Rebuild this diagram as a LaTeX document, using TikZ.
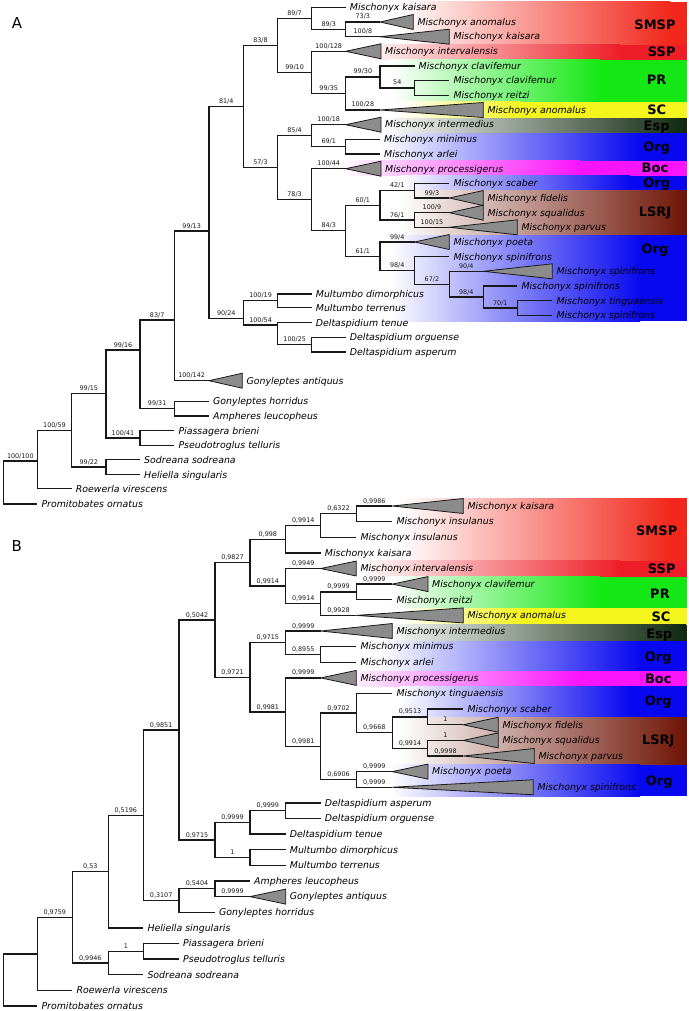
\documentclass[tikz,border=0pt]{standalone}
\usepackage{fontspec}
\setmainfont{DejaVu Sans}
\definecolor{cRed}{RGB}{242,40,28}
\definecolor{cRedB}{RGB}{238,30,40}
\definecolor{cGreen}{RGB}{20,232,20}
\definecolor{cYellow}{RGB}{245,245,30}
\definecolor{cEsp}{RGB}{15,40,15}
\definecolor{cBlue}{RGB}{8,8,240}
\definecolor{cMag}{RGB}{250,20,250}
\definecolor{cBrown}{RGB}{110,20,5}
\newcommand\tnode[5]{\coordinate (#2) at (#3,#4); \draw[br] (#1) |- (#2) node[bl,pos=.75] {#5};}
\newcommand\tleaf[5]{\coordinate (#2) at (#3,#4); \draw[br] (#1) |- (#2); \node[sp] (#2t) at (#2) {#5};}
\newcommand\ttri[7]{\coordinate (#2) at (#3,#4); \draw[br] (#1) |- (#2) node[bl,pos=.75] {#7};
  \coordinate (#2b) at (#5,#4);
  \filldraw[tri] (#2) -- ([yshift=7.5pt]#2b) -- ([yshift=-7.5pt]#2b) -- cycle;
  \node[sp] (#2t) at (#2b) {#6};}
\newcommand\band[5]{\shade[left color=white,right color=#5] (#3,#1) rectangle (#4,#2);
  \fill[#5] (#4-0.5,#1) rectangle (686.7,#2);}
\begin{document}
\begin{tikzpicture}[x=1pt,y=-1pt,
  br/.style={line width=1.25pt,black!90,line join=miter},
  bl/.style={font=\fontsize{6.4}{7}\selectfont,anchor=base,yshift=3pt,inner sep=0pt},
  sp/.style={font=\fontsize{9.4}{11}\selectfont\itshape,anchor=base west,xshift=4pt,yshift=-3.3pt,inner sep=0pt},
  tri/.style={draw=black!90,line width=0.8pt,fill=black!45},
  grp/.style={font=\fontsize{13}{15}\selectfont\bfseries,anchor=base,yshift=-4.7pt,inner sep=0pt},
  pl/.style={font=\fontsize{15}{17}\selectfont,inner sep=0pt}]
\useasboundingbox (0,0) rectangle (688,1011);
% ---------- bands A
\band{1.7}{45}{400}{670}{cRed}
\band{45}{59.7}{360}{620}{cRedB}
\band{59.7}{101.7}{390}{600}{cGreen}
\band{101.7}{118.3}{400}{520}{cYellow}
\band{118.3}{133.3}{380}{686}{cEsp}
\band{133.3}{160.7}{380}{640}{cBlue}
\band{160.7}{176}{340}{580}{cMag}
\band{176}{190.7}{400}{630}{cBlue}
\band{190.7}{235}{400}{686}{cBrown}
\band{235}{321}{390}{640}{cBlue}
% ---------- bands B
\band{498.3}{560.5}{400}{670}{cRed}
\band{560.5}{576.5}{360}{620}{cRedB}
\band{576.5}{608}{390}{600}{cGreen}
\band{608}{624.5}{400}{520}{cYellow}
\band{624.5}{641}{380}{686}{cEsp}
\band{641}{671}{380}{640}{cBlue}
\band{671}{686}{340}{580}{cMag}
\band{686}{717.5}{400}{630}{cBlue}
\band{717.5}{764.5}{400}{686}{cBrown}
\band{764.5}{796}{390}{640}{cBlue}
% ---------- panel letters
\node[pl] (lA) at (17,23) {A};
\node[pl] (lB) at (16.7,545.7) {B};
% ---------- tree A
\coordinate (aR0) at (3.3,482);
\tleaf{aR0}{aPro}{37.3}{504}{Promitobates ornatus}
\tnode{aR0}{a1}{37.3}{461}{100/100}
\tleaf{a1}{aRoe}{71.7}{488.7}{Roewerla virescens}
\tnode{a1}{a2}{71.7}{430.7}{100/59}
\tnode{a2}{a3}{106}{393.3}{99/15}
\tnode{a2}{a4}{106}{467}{99/22}
\tleaf{a4}{aSod}{140}{459.7}{Sodreana sodreana}
\tleaf{a4}{aHel}{140}{474.7}{Heliella singularis}
\tnode{a3}{a5}{140}{350}{99/16}
\tnode{a3}{a6}{140}{438}{100/41}
\tleaf{a6}{aPia}{174.3}{430.7}{Piassagera brieni}
\tleaf{a6}{aPse}{174.3}{445.3}{Pseudotroglus telluris}
\tnode{a5}{a7}{174.3}{320}{83/7}
\tnode{a5}{a8}{174.3}{408.7}{99/31}
\tleaf{a8}{aGho}{209}{401.3}{Gonyleptes horridus}
\tleaf{a8}{aAmp}{209}{416}{Ampheres leucopheus}
\tnode{a7}{a9}{209}{231}{99/13}
\ttri{a7}{aGan}{209}{380.7}{242.3}{Gonyleptes antiquus}{100/142}
\tnode{a9}{a10}{243.5}{106.5}{81/4}
\tnode{a9}{a11}{243.5}{318.3}{90/24}
\tnode{a11}{a12}{277.7}{300.85}{100/19}
\tnode{a11}{a13}{277.7}{325}{100/54}
\tleaf{a12}{aMdi}{311.7}{294}{Multumbo dimorphicus}
\tleaf{a12}{aMte}{311.7}{307.7}{Multumbo terrenus}
\tleaf{a13}{aDte}{311.7}{322.7}{Deltaspidium tenue}
\tnode{a13}{a14}{311.7}{344.65}{100/25}
\tleaf{a14}{aDor}{345.7}{337.3}{Deltaspidium orguense}
\tleaf{a14}{aDas}{345.7}{352}{Deltaspidium asperum}
\tnode{a10}{a15}{277.5}{45.35}{83/8}
\tnode{a10}{a16}{277.5}{167.7}{57/3}
\tnode{a15}{a17}{311.7}{18.3}{89/7}
\tnode{a15}{a18}{311.7}{72.4}{99/10}
\tleaf{a17}{aKa1}{345.7}{7.3}{Mischonyx kaisara}
\tnode{a17}{a19}{345.7}{29.35}{89/3}
\ttri{a19}{aAn1}{380}{22}{413.3}{Mischonyx anomalus}{73/3}
\ttri{a19}{aKa2}{380}{36.7}{449.3}{Mischonyx kaisara}{100/8}
\ttri{a18}{aInt}{345.7}{51.3}{381}{Mischonyx intervalensis}{100/128}
\tnode{a18}{a20}{345.7}{93.5}{99/35}
\tnode{a20}{a21}{380}{77}{99/30}
\ttri{a20}{aAn2}{380}{110}{483.3}{Mischonyx anomalus}{100/28}
\tleaf{a21}{aCl1}{414.5}{66}{Mischonyx clavifemur}
\tnode{a21}{a22}{414.5}{88}{54}
\tleaf{a22}{aCl2}{449.3}{80.7}{Mischonyx clavifemur}
\tleaf{a22}{aRei}{449.3}{95.3}{Mischonyx reitzi}
\tnode{a16}{a23}{311.7}{135.7}{85/4}
\tnode{a16}{a24}{311.7}{199.7}{78/3}
\ttri{a23}{aIme}{345.7}{124.7}{381}{Mischonyx intermedius}{100/18}
\tnode{a23}{a25}{345.7}{146.65}{69/1}
\tleaf{a25}{aMin}{380}{139.3}{Mischonyx minimus}
\tleaf{a25}{aArl}{380}{154}{Mischonyx arlei}
\ttri{a24}{aPrc}{345.7}{168.7}{381}{Mischonyx processigerus}{100/44}
\tnode{a24}{a26}{345.7}{230.75}{84/3}
\tnode{a26}{a27}{380}{205.3}{60/1}
\tnode{a26}{a28}{380}{256.2}{61/1}
\tnode{a27}{a29}{414.5}{190.65}{42/1}
\tnode{a27}{a30}{414.5}{220}{76/1}
\tleaf{a29}{aSca}{449.3}{183.3}{Mischonyx scaber}
\ttri{a29}{aFid}{449.3}{198}{483.3}{Mishconyx fidelis}{99/3}
\ttri{a30}{aSqu}{449.3}{212.7}{483.3}{Mischonyx squalidus}{100/9}
\ttri{a30}{aPar}{449.3}{227.3}{517.3}{Mischonyx parvus}{100/15}
\ttri{a28}{aPoe}{414.5}{242}{449.3}{Mischonyx poeta}{99/4}
\tnode{a28}{a31}{414.5}{270.4}{98/4}
\tleaf{a31}{aSp1}{449.3}{256.7}{Mischonyx spinifrons}
\tnode{a31}{a32}{449.3}{284.15}{67/2}
\ttri{a32}{aSp2}{483.3}{271.3}{552.3}{Mischonyx spinifrons}{90/4}
\tnode{a32}{a33}{483.3}{297}{98/4}
\tleaf{a33}{aSp3}{517.3}{286}{Mischonyx spinifrons}
\tnode{a33}{a34}{517.3}{308}{70/1}
\tleaf{a34}{aTin}{552.3}{300.7}{Mischonyx tinguaensis}
\tleaf{a34}{aSp4}{552.3}{315.3}{Mischonyx spinifrons}
% ---------- tree B
\coordinate (bR0) at (3.3,979.9);
\tleaf{bR0}{bPro}{37.3}{1006}{Promitobates ornatus}
\tnode{bR0}{b1}{37.3}{953.9}{}
\tleaf{b1}{bRoe}{72.3}{990.4}{Roewerla virescens}
\tnode{b1}{b2}{72.3}{917.3}{0,9759}
\tnode{b2}{b3}{108.3}{871.5}{0,53}
\tnode{b2}{b4}{108.3}{963}{0,9946}
\tnode{b4}{b5}{143.3}{951.3}{1}
\tleaf{b4}{bSod}{143.3}{974.75}{Sodreana sodreana}
\tleaf{b5}{bPia}{179}{943.5}{Piassagera brieni}
\tleaf{b5}{bPse}{179}{959.1}{Pseudotroglus telluris}
\tnode{b3}{b6}{143.3}{815.3}{0,5196}
\tleaf{b3}{bHel}{143.3}{927.9}{Heliella singularis}
\tnode{b6}{b7}{179}{730}{0,9851}
\tnode{b6}{b8}{179}{900.5}{0,3107}
\tnode{b8}{b9}{215}{888.8}{0,5404}
\tleaf{b8}{bGho}{215}{912.25}{Gonyleptes horridus}
\tleaf{b9}{bAmp}{250}{881}{Ampheres leucopheus}
\ttri{b9}{bGan}{250}{896.6}{285.7}{Gonyleptes antiquus}{0,9999}
\tnode{b7}{b10}{215}{620}{0,5042}
\tnode{b7}{b11}{215}{840}{0,9715}
\tnode{b11}{b12}{250}{822.4}{0,9999}
\tnode{b11}{b13}{250}{857.6}{1}
\tnode{b12}{b14}{285.7}{810.7}{0,9999}
\tleaf{b12}{bDte}{285.7}{834.1}{Deltaspidium tenue}
\tleaf{b14}{bDas}{320.7}{802.9}{Deltaspidium asperum}
\tleaf{b14}{bDor}{320.7}{818.5}{Deltaspidium orguense}
\tleaf{b13}{bMdi}{285.7}{849.75}{Multumbo dimorphicus}
\tleaf{b13}{bMte}{285.7}{865.4}{Multumbo terrenus}
\tnode{b10}{b15}{250}{562.6}{0,9827}
\tnode{b10}{b16}{250}{677.4}{0,9721}
\tnode{b15}{b17}{285.7}{539.2}{0,998}
\tnode{b15}{b18}{285.7}{586.1}{0,9914}
\tnode{b17}{b19}{320.7}{525.5}{0,9914}
\tleaf{b17}{bKa1}{320.7}{552.9}{Mischonyx kaisara}
\tnode{b19}{b20}{356.3}{513.8}{0,6322}
\tleaf{b19}{bIn1}{356.3}{537.25}{Mischonyx insulanus}
\ttri{b20}{bKa2}{392.3}{506}{463.3}{Mischonyx kaisara}{0,9986}
\tleaf{b20}{bIn2}{392.3}{521.6}{Mischonyx insulanus}
\ttri{b18}{bInt}{320.7}{568.5}{356.3}{Mischonyx intervalensis}{0,9949}
\tnode{b18}{b21}{320.7}{603.7}{0,9914}
\tnode{b21}{b22}{356.3}{591.9}{0,9999}
\ttri{b21}{bAn}{356.3}{615.4}{463.3}{Mischonyx anomalus}{0,9928}
\ttri{b22}{bCla}{392.3}{584.1}{428}{Mischonyx clavifemur}{0,9999}
\tleaf{b22}{bRei}{392.3}{599.75}{Mischonyx reitzi}
\tnode{b16}{b23}{285.7}{642.7}{0,9715}
\tnode{b16}{b24}{285.7}{712}{0,9981}
\ttri{b23}{bIme}{320.7}{631}{392.3}{Mischonyx intermedius}{0,9999}
\tnode{b23}{b25}{320.7}{654.4}{0,8955}
\tleaf{b25}{bMin}{356.3}{646.6}{Mischonyx minimus}
\tleaf{b25}{bArl}{356.3}{662.25}{Mischonyx arlei}
\ttri{b24}{bPrc}{320.7}{677.9}{356.3}{Mischonyx processigerus}{0,9999}
\tnode{b24}{b26}{320.7}{746.2}{0,9981}
\tnode{b26}{b27}{356.3}{713}{0,9702}
\tnode{b26}{b28}{356.3}{779.4}{0,6906}
\tleaf{b27}{bTin}{392.3}{693.5}{Mischonyx tinguaensis}
\tnode{b27}{b29}{392.3}{732.6}{0,9668}
\tnode{b29}{b30}{427.7}{716.9}{0,9513}
\tnode{b29}{b31}{427.7}{748.2}{0,9914}
\tleaf{b30}{bSca}{463.3}{709.1}{Mischonyx scaber}
\ttri{b30}{bFid}{463.3}{724.75}{498.3}{Mischonyx fidelis}{1}
\ttri{b31}{bSqu}{463.3}{740.4}{498.3}{Mischonyx squalidus}{1}
\ttri{b31}{bPar}{463.3}{756}{534.3}{Mischonyx parvus}{0,9998}
\ttri{b28}{bPoe}{392.3}{771.6}{428}{Mischonyx poeta}{0,9999}
\ttri{b28}{bSpi}{392.3}{787.25}{533.3}{Mischonyx spinifrons}{0,9999}
% ---------- group labels A
\node[grp] (gA1) at (655,25) {SMSP};
\node[grp] (gA2) at (661.7,52.3) {SSP};
\node[grp] (gA3) at (656.7,80) {PR};
\node[grp] (gA4) at (656.7,110) {SC};
\node[grp] (gA5) at (656.7,126) {Esp};
\node[grp] (gA6) at (656.7,146.7) {Org};
\node[grp] (gA7) at (655,168.3) {Boc};
\node[grp] (gA8) at (656.7,182.7) {Org};
\node[grp] (gA9) at (655,211.7) {LSRJ};
\node[grp] (gA10) at (655,248.3) {Org};
% ---------- group labels B
\node[grp] (gB1) at (656.7,530.7) {SMSP};
\node[grp] (gB2) at (661.7,569) {SSP};
\node[grp] (gB3) at (660,594) {PR};
\node[grp] (gB4) at (661,616.7) {SC};
\node[grp] (gB5) at (659.3,633.3) {Esp};
\node[grp] (gB6) at (658.3,656.7) {Org};
\node[grp] (gB7) at (658.3,678.3) {Boc};
\node[grp] (gB8) at (658.3,701) {Org};
\node[grp] (gB9) at (658.3,740) {LSRJ};
\node[grp] (gB10) at (659.3,780.7) {Org};
\end{tikzpicture}
\end{document}
